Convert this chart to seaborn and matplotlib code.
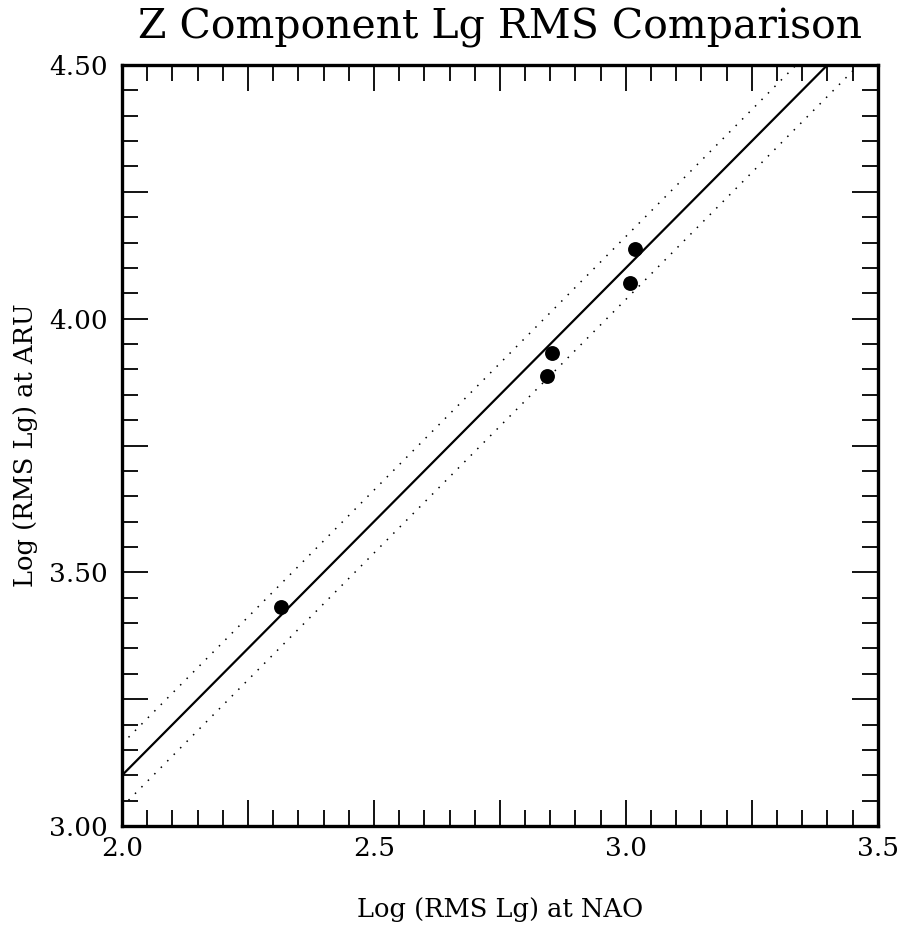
import numpy as np
import pandas as pd
import matplotlib
matplotlib.use("Agg")
import matplotlib.pyplot as plt
import seaborn as sns
from matplotlib.ticker import MultipleLocator, FuncFormatter

# Data
nao = [2.315, 2.843, 2.854, 3.009, 3.018]
aru = [3.431, 3.888, 3.932, 4.071, 4.137]

fit_x = [2.0, 3.5]
fit_intercept = 1.10
band_offset = 0.062

sns.set_theme(style="white")
plt.rcParams['font.family'] = ['DejaVu Serif']
plt.rcParams['text.color'] = 'black'
plt.rcParams['axes.labelcolor'] = 'black'
plt.rcParams['xtick.color'] = 'black'
plt.rcParams['ytick.color'] = 'black'

fig = plt.figure(figsize=(9.04, 9.46), dpi=100)
ax = fig.add_axes([0.135, 0.1268, 0.836, 0.8045])

df_pts = pd.DataFrame({"x": nao, "y": aru})
fx = np.array(fit_x)
df_fit = pd.DataFrame({"x": fx, "y": fx + fit_intercept})
df_up = pd.DataFrame({"x": fx, "y": fx + fit_intercept + band_offset})
df_lo = pd.DataFrame({"x": fx, "y": fx + fit_intercept - band_offset})

sns.lineplot(data=df_fit, x="x", y="y", ax=ax, color="black", lw=1.6)
sns.lineplot(data=df_up, x="x", y="y", ax=ax, color="black", lw=1.1,
             linestyle=(0, (1, 5)))
sns.lineplot(data=df_lo, x="x", y="y", ax=ax, color="black", lw=1.1,
             linestyle=(0, (1, 5)))
sns.scatterplot(data=df_pts, x="x", y="y", ax=ax, color="black", s=115,
                edgecolor="black", linewidth=0, zorder=5)

ax.set_xlim(2.0, 3.5)
ax.set_ylim(3.0, 4.5)

ax.xaxis.set_major_locator(MultipleLocator(0.25))
ax.xaxis.set_minor_locator(MultipleLocator(0.05))
ax.yaxis.set_major_locator(MultipleLocator(0.25))
ax.yaxis.set_minor_locator(MultipleLocator(0.05))

def fmt_x(v, pos):
    return f"{v:.1f}" if abs(v * 2 - round(v * 2)) < 1e-6 else ""

def fmt_y(v, pos):
    return f"{v:.2f}" if abs(v * 2 - round(v * 2)) < 1e-6 else ""

ax.xaxis.set_major_formatter(FuncFormatter(fmt_x))
ax.yaxis.set_major_formatter(FuncFormatter(fmt_y))

ax.tick_params(which="both", direction="in", top=True, right=True,
               bottom=True, left=True, color="black", width=1.3)
ax.tick_params(which="major", length=18.5, labelsize=19, pad=7)
ax.tick_params(which="minor", length=11.5)
ax.tick_params(axis="y", which="major", pad=10)

for s in ax.spines.values():
    s.set_linewidth(2.4)
    s.set_color("black")

ax.set_xlabel("Log (RMS Lg) at NAO", fontsize=18.5, labelpad=26)
ax.set_ylabel("Log (RMS Lg) at ARU", fontsize=18.5, labelpad=8)
ax.set_title("Z Component Lg RMS Comparison", fontsize=29.5, pad=19,
             color="black")

fig.savefig("out.png", dpi=100)
